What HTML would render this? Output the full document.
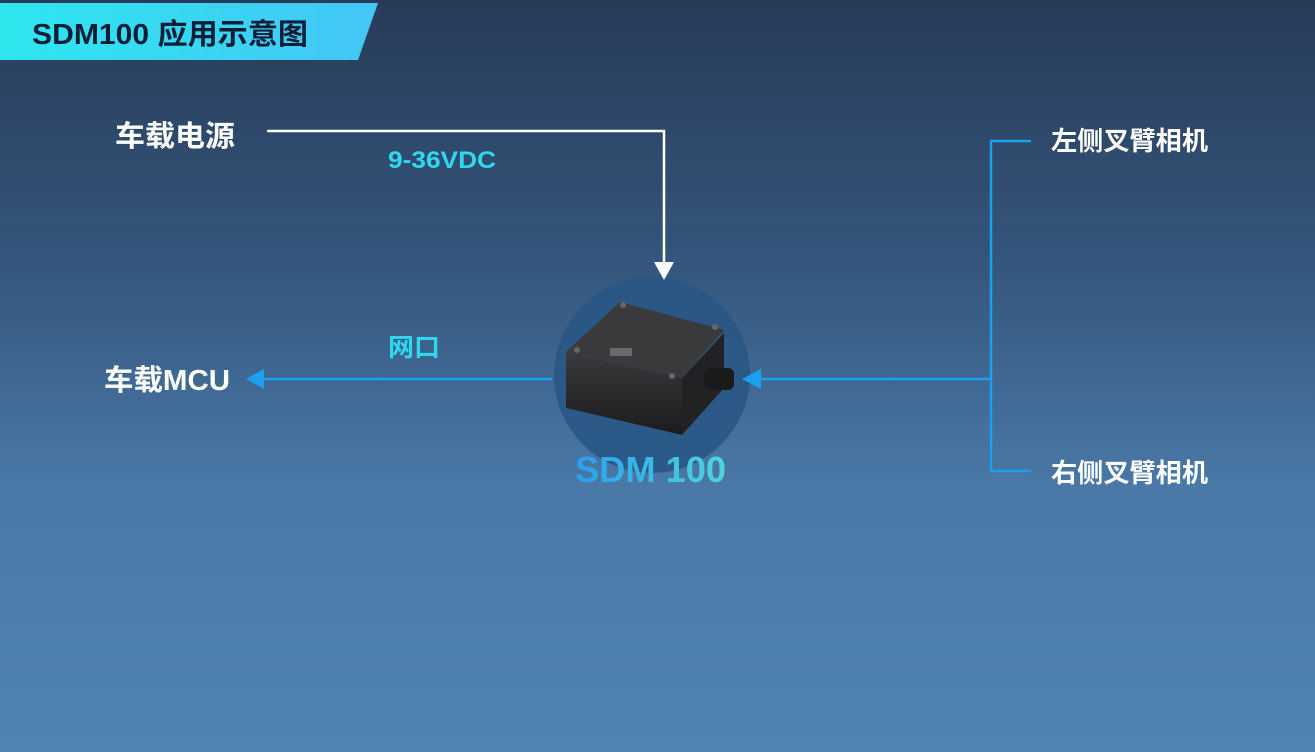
<!DOCTYPE html>
<html><head><meta charset="utf-8"><style>
html,body{margin:0;padding:0;width:1315px;height:752px;overflow:hidden}
body{background:linear-gradient(180deg,#283b58 0%,#34567c 35%,#4a79a7 65%,#5184b3 100%);font-family:"Liberation Sans","Noto Sans CJK SC",sans-serif}
svg{position:absolute;left:0;top:0}
</style></head><body>
<svg width="1315" height="752" viewBox="0 0 1315 752">
<defs>
<linearGradient id="bn" x1="0" x2="1"><stop offset="0" stop-color="#2ee6ee"/><stop offset="1" stop-color="#44c6f6"/></linearGradient>
<linearGradient id="tt" x1="0" x2="1"><stop offset="0" stop-color="#2a9ef0"/><stop offset="1" stop-color="#4ed6d8"/></linearGradient>
<linearGradient id="bx" x1="0" y1="0" x2="0" y2="1"><stop offset="0" stop-color="#3a3a3c"/><stop offset="1" stop-color="#1c1c1e"/></linearGradient>
</defs>
<polygon points="0,3 378,3 358,60 0,60" fill="url(#bn)"/>
<text x="32" y="44" font-size="29" font-weight="bold" fill="#0d1e36" textLength="276" lengthAdjust="spacingAndGlyphs">SDM100 应用示意图</text>

<circle cx="652" cy="375" r="98" fill="#285684" opacity="0.85"/>
<polyline points="267,131 664,131 664,266" fill="none" stroke="#fff" stroke-width="2.5"/>
<polygon points="654,262 674,262 664,280" fill="#fff"/>
<text x="115" y="146" font-size="29" font-weight="bold" fill="#fff" textLength="120" lengthAdjust="spacingAndGlyphs">车载电源</text>
<text x="388" y="168" font-size="24" font-weight="bold" fill="#2fd8ef" textLength="108" lengthAdjust="spacingAndGlyphs">9-36VDC</text>
<line x1="262" y1="379" x2="552" y2="379" stroke="#1aa0ee" stroke-width="2.5"/>
<polygon points="246,379 264,369 264,389" fill="#1aa0ee"/>
<text x="104" y="390" font-size="29" font-weight="bold" fill="#fff" textLength="126" lengthAdjust="spacingAndGlyphs">车载MCU</text>
<text x="388" y="356" font-size="25" font-weight="bold" fill="#2fd8ef" textLength="52" lengthAdjust="spacingAndGlyphs">网口</text>
<polyline points="1031,141 991,141 991,471 1031,471" fill="none" stroke="#1aa0ee" stroke-width="2.5"/>
<line x1="991" y1="379" x2="758" y2="379" stroke="#1aa0ee" stroke-width="2.5"/>
<polygon points="742,379 761,369 761,389" fill="#1aa0ee"/>
<text x="1051" y="150" font-size="26" font-weight="bold" fill="#fff" textLength="157" lengthAdjust="spacingAndGlyphs">左侧叉臂相机</text>
<text x="1051" y="482" font-size="26" font-weight="bold" fill="#fff" textLength="157" lengthAdjust="spacingAndGlyphs">右侧叉臂相机</text>
<polygon points="566,352 682,378 682,435 566,408" fill="url(#bx)"/>
<polygon points="682,378 724,333 724,388 682,435" fill="#222224"/>
<polygon points="566,352 620,302 724,330 682,378" fill="#3a3a3d"/>
<circle cx="623" cy="305" r="3" fill="#666"/><circle cx="715" cy="327" r="3" fill="#666"/>
<circle cx="577" cy="350" r="3" fill="#666"/><circle cx="672" cy="376" r="3" fill="#666"/>
<rect x="610" y="348" width="22" height="8" fill="#888" opacity="0.6"/>
<rect x="704" y="368" width="30" height="22" rx="6" fill="#1a1a1a"/>
<text x="575" y="482" font-size="36" font-weight="bold" fill="url(#tt)" textLength="151" lengthAdjust="spacingAndGlyphs">SDM 100</text>
</svg>
</body></html>
